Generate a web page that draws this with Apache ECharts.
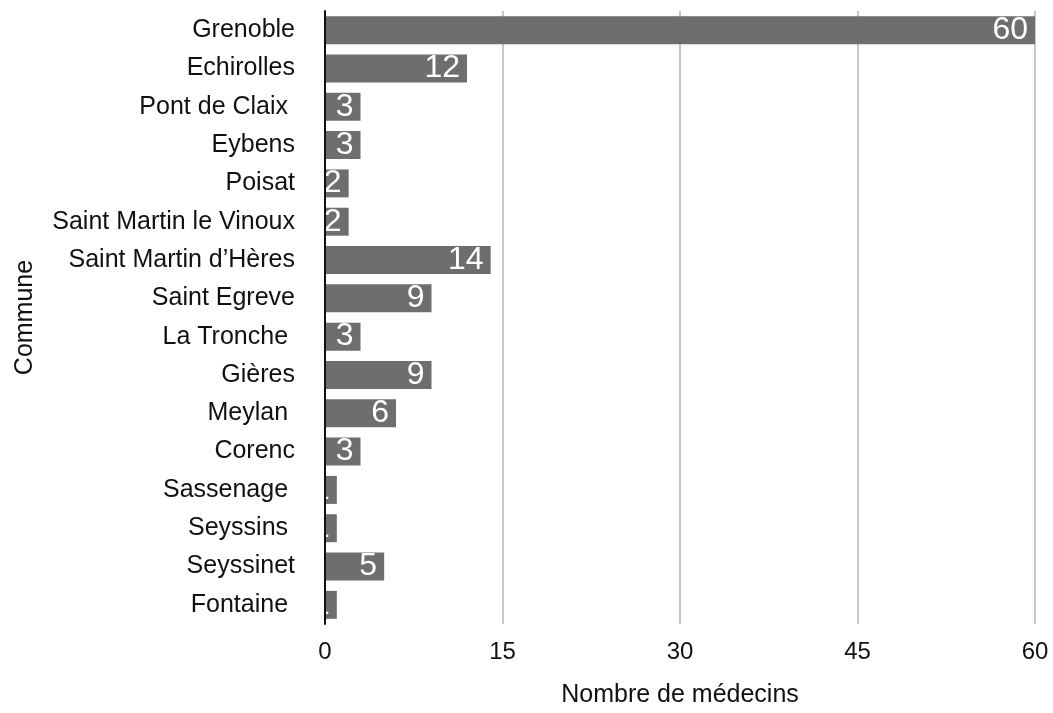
<!DOCTYPE html>
<html>
<head>
<meta charset="utf-8">
<script src="https://cdn.jsdelivr.net/npm/echarts@6/dist/echarts.min.js"></script>
<style>
  html, body { margin: 0; padding: 0; background: #fff; }
  #main { width: 1053px; height: 713px; }
</style>
</head>
<body>
<div id="main"></div>
<script>
// communes, de haut en bas
var communes = [
  "Grenoble", "Echirolles", "Pont de Claix ", "Eybens", "Poisat",
  "Saint Martin le Vinoux", "Saint Martin d\u2019H\u00e8res", "Saint Egreve",
  "La Tronche ", "Gi\u00e8res", "Meylan ", "Corenc", "Sassenage ",
  "Seyssins ", "Seyssinet", "Fontaine "
];
var medecins = [60, 12, 3, 3, 2, 2, 14, 9, 3, 9, 6, 3, 1, 1, 5, 1];
var xTicks = [0, 15, 30, 45, 60];

var font = "'Liberation Sans', Arial, sans-serif";
var chart = echarts.init(document.getElementById("main"));

var option = {
  backgroundColor: "#ffffff",
  animation: false,
  grid: { left: 325, right: 18, top: 11, bottom: 86, containLabel: false },
  xAxis: {
    type: "value",
    min: xTicks[0],
    max: xTicks[xTicks.length - 1],
    interval: 15,
    name: "Nombre de médecins",
    nameLocation: "middle",
    nameGap: 59,
    nameTextStyle: { fontFamily: font, fontSize: 25, color: "#111" },
    axisLine: { show: false },
    axisTick: { show: false },
    axisLabel: { fontFamily: font, fontSize: 24, color: "#111", margin: 16 },
    splitLine: { show: true, lineStyle: { color: "#c8c8c8", width: 2 } }
  },
  yAxis: {
    type: "category",
    data: communes,
    inverse: true,
    z: 5,
    name: "Commune",
    nameLocation: "middle",
    nameGap: 287,
    nameRotate: 90,
    nameTextStyle: { fontFamily: font, fontSize: 25, color: "#111" },
    axisLine: { show: true, lineStyle: { color: "#111", width: 2 } },
    axisTick: { show: false },
    axisLabel: {
      fontFamily: font, fontSize: 25, color: "#111", margin: 30,
      padding: [5, 0, 0, 0]
    }
  },
  series: [
    {
      type: "bar",
      data: medecins,
      barCategoryGap: "27%",
      itemStyle: { color: "#6c6f6c" },
      label: {
        show: true,
        position: "insideRight",
        distance: 7,
        color: "#ffffff",
        fontFamily: font,
        fontSize: 32,
        padding: [3, 0, 0, 0]
      }
    }
  ]
};

chart.setOption(option);
</script>
</body>
</html>
